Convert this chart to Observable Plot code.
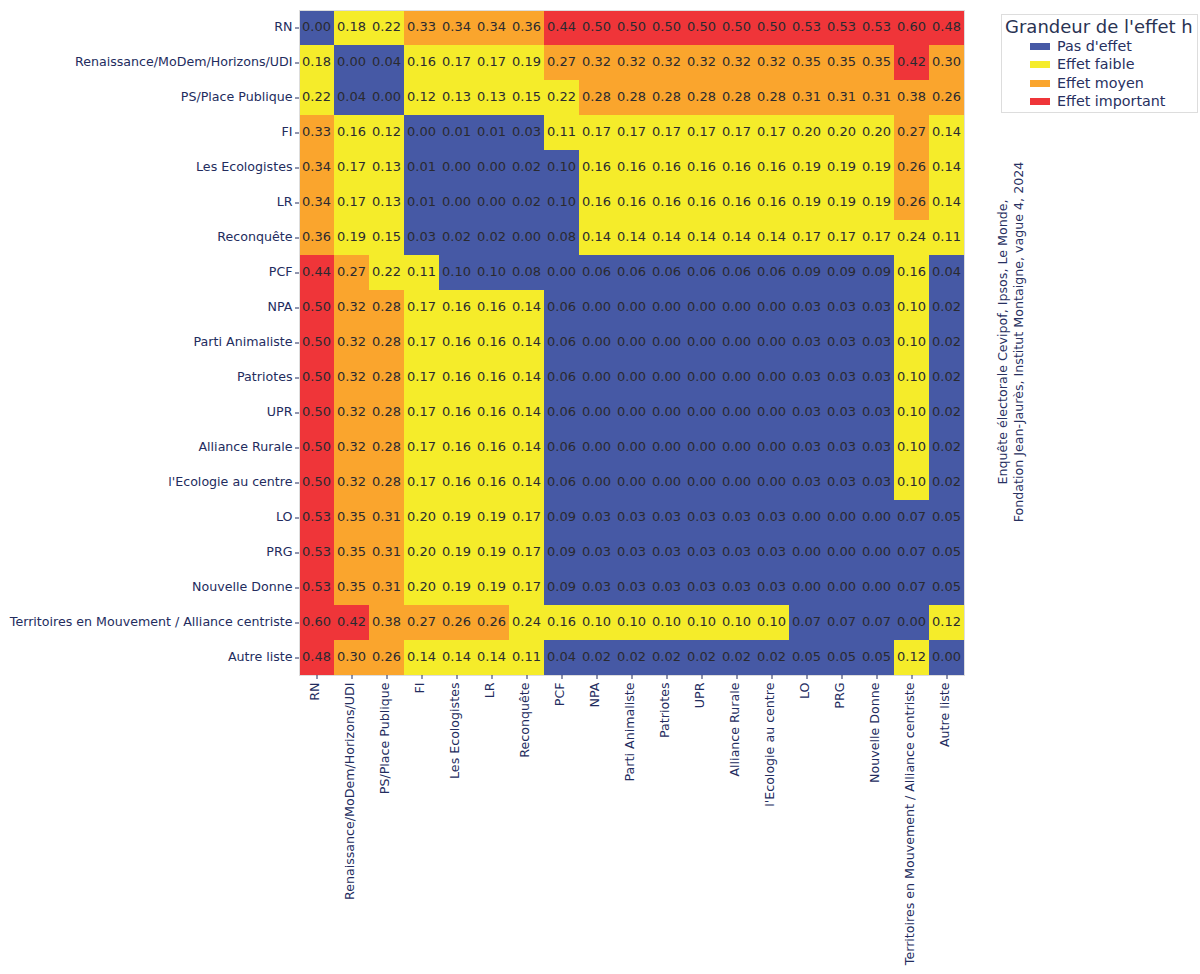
<!DOCTYPE html>
<html><head><meta charset="utf-8">
<script src="https://cdn.jsdelivr.net/npm/d3@7"></script>
<script src="https://cdn.jsdelivr.net/npm/@observablehq/plot@0.6"></script>
<style>
html,body{margin:0;padding:0;background:#fff;}
#wrap{position:relative;width:1200px;height:974px;font-family:"DejaVu Sans",sans-serif;overflow:hidden;}
#legend{position:absolute;left:1001px;top:14px;width:195px;height:97px;border:1px solid #ddd;box-sizing:content-box;color:#27305f;}
#legend .t{position:absolute;left:3px;top:1px;font-size:18px;white-space:nowrap;color:#2a3353;}
#legend .r{position:absolute;left:28px;font-size:14.3px;white-space:nowrap;line-height:16px;}
#legend .s{display:inline-block;width:20px;height:7px;margin-right:7px;vertical-align:1px;}
#note{position:absolute;left:1011px;top:342px;transform:translate(-50%,-50%) rotate(-90deg);font-size:12.65px;line-height:16px;text-align:center;white-space:nowrap;color:#27305f;}
</style></head><body>
<div id="wrap"><div id="chart"></div><div id="legend"></div>
<div id="note">Enquête électorale Cevipof, Ipsos, Le Monde,<br>Fondation Jean-Jaurès, Institut Montaigne, vague 4, 2024</div></div>
<script>
const parties = ["RN","Renaissance/MoDem/Horizons/UDI","PS/Place Publique","FI","Les Ecologistes","LR","Reconquête","PCF","NPA","Parti Animaliste","Patriotes","UPR","Alliance Rurale","l'Ecologie au centre","LO","PRG","Nouvelle Donne","Territoires en Mouvement / Alliance centriste","Autre liste"];
const legendLabels = ["Pas d'effet","Effet faible","Effet moyen","Effet important"];
const legendTitle = "Grandeur de l'effet h";
const thresholds = [0.1,0.25,0.4];
const colors = ["#4659a5","#f5ec2a","#faa52d","#ef3539"];
// Values with three decimals where the colour shows that a printed 0.10 lies under the 0.1 threshold
const rows = [
[0.00,0.18,0.22,0.33,0.34,0.34,0.36,0.44,0.50,0.50,0.50,0.50,0.50,0.50,0.53,0.53,0.53,0.60,0.48],
[0.18,0.00,0.04,0.16,0.17,0.17,0.19,0.27,0.32,0.32,0.32,0.32,0.32,0.32,0.35,0.35,0.35,0.42,0.30],
[0.22,0.04,0.00,0.12,0.13,0.13,0.15,0.22,0.28,0.28,0.28,0.28,0.28,0.28,0.31,0.31,0.31,0.38,0.26],
[0.33,0.16,0.12,0.00,0.01,0.01,0.03,0.11,0.17,0.17,0.17,0.17,0.17,0.17,0.20,0.20,0.20,0.27,0.14],
[0.34,0.17,0.13,0.01,0.00,0.00,0.02,0.098,0.16,0.16,0.16,0.16,0.16,0.16,0.19,0.19,0.19,0.26,0.14],
[0.34,0.17,0.13,0.01,0.00,0.00,0.02,0.098,0.16,0.16,0.16,0.16,0.16,0.16,0.19,0.19,0.19,0.26,0.14],
[0.36,0.19,0.15,0.03,0.02,0.02,0.00,0.08,0.14,0.14,0.14,0.14,0.14,0.14,0.17,0.17,0.17,0.24,0.11],
[0.44,0.27,0.22,0.11,0.098,0.098,0.08,0.00,0.06,0.06,0.06,0.06,0.06,0.06,0.09,0.09,0.09,0.16,0.04],
[0.50,0.32,0.28,0.17,0.16,0.16,0.14,0.06,0.00,0.00,0.00,0.00,0.00,0.00,0.03,0.03,0.03,0.10,0.02],
[0.50,0.32,0.28,0.17,0.16,0.16,0.14,0.06,0.00,0.00,0.00,0.00,0.00,0.00,0.03,0.03,0.03,0.10,0.02],
[0.50,0.32,0.28,0.17,0.16,0.16,0.14,0.06,0.00,0.00,0.00,0.00,0.00,0.00,0.03,0.03,0.03,0.10,0.02],
[0.50,0.32,0.28,0.17,0.16,0.16,0.14,0.06,0.00,0.00,0.00,0.00,0.00,0.00,0.03,0.03,0.03,0.10,0.02],
[0.50,0.32,0.28,0.17,0.16,0.16,0.14,0.06,0.00,0.00,0.00,0.00,0.00,0.00,0.03,0.03,0.03,0.10,0.02],
[0.50,0.32,0.28,0.17,0.16,0.16,0.14,0.06,0.00,0.00,0.00,0.00,0.00,0.00,0.03,0.03,0.03,0.10,0.02],
[0.53,0.35,0.31,0.20,0.19,0.19,0.17,0.09,0.03,0.03,0.03,0.03,0.03,0.03,0.00,0.00,0.00,0.07,0.05],
[0.53,0.35,0.31,0.20,0.19,0.19,0.17,0.09,0.03,0.03,0.03,0.03,0.03,0.03,0.00,0.00,0.00,0.07,0.05],
[0.53,0.35,0.31,0.20,0.19,0.19,0.17,0.09,0.03,0.03,0.03,0.03,0.03,0.03,0.00,0.00,0.00,0.07,0.05],
[0.60,0.42,0.38,0.27,0.26,0.26,0.24,0.16,0.10,0.10,0.10,0.10,0.10,0.10,0.07,0.07,0.07,0.00,0.12],
[0.48,0.30,0.26,0.14,0.14,0.14,0.11,0.04,0.02,0.02,0.02,0.02,0.02,0.02,0.05,0.05,0.05,0.12,0.00]
];
const table = rows.flatMap((r,i)=>r.map((v,j)=>({row:parties[i],col:parties[j],v})));
const ink = "#232c5e";
const chart = Plot.plot({
  width:1200,height:974,
  marginLeft:299,marginRight:236,marginTop:10,marginBottom:299,
  style:{fontFamily:"'DejaVu Sans',sans-serif",background:"#fff"},
  x:{domain:parties,padding:0,round:false,axis:null},
  y:{domain:parties,padding:0,round:false,axis:null},
  color:{type:"threshold",domain:thresholds,range:colors},
  marks:[
    Plot.cell(table,{x:"col",y:"row",fill:"v"}),
    Plot.text(table,{x:"col",y:"row",text:d=>d.v.toFixed(2),fill:"#2a2a30",fontSize:13,dx:-0.5,dy:-1}),
    Plot.frame({stroke:"#dddddd",strokeWidth:1}),
    Plot.axisY({anchor:"left",label:null,text:null,tickSize:4,stroke:ink}),
    Plot.axisY({anchor:"left",label:null,tickSize:0,tickPadding:7,dy:-1,fontSize:12.63,fill:ink,lineWidth:100,textOverflow:null}),
    Plot.axisX({anchor:"bottom",label:null,text:null,tickSize:4,stroke:ink}),
    Plot.axisX({anchor:"bottom",label:null,tickSize:0,tickPadding:7,dx:-2,tickRotate:-90,fontSize:12.63,fill:ink,lineWidth:100,textOverflow:null})
  ]
});
document.getElementById("chart").appendChild(chart);
const lg = document.getElementById("legend");
lg.innerHTML = `<div class="t">${legendTitle}</div>` + legendLabels.map((l,i)=>`<div class="r" style="top:${23+i*18.4}px"><span class="s" style="background:${colors[i]}"></span>${l}</div>`).join("");
</script></body></html>
